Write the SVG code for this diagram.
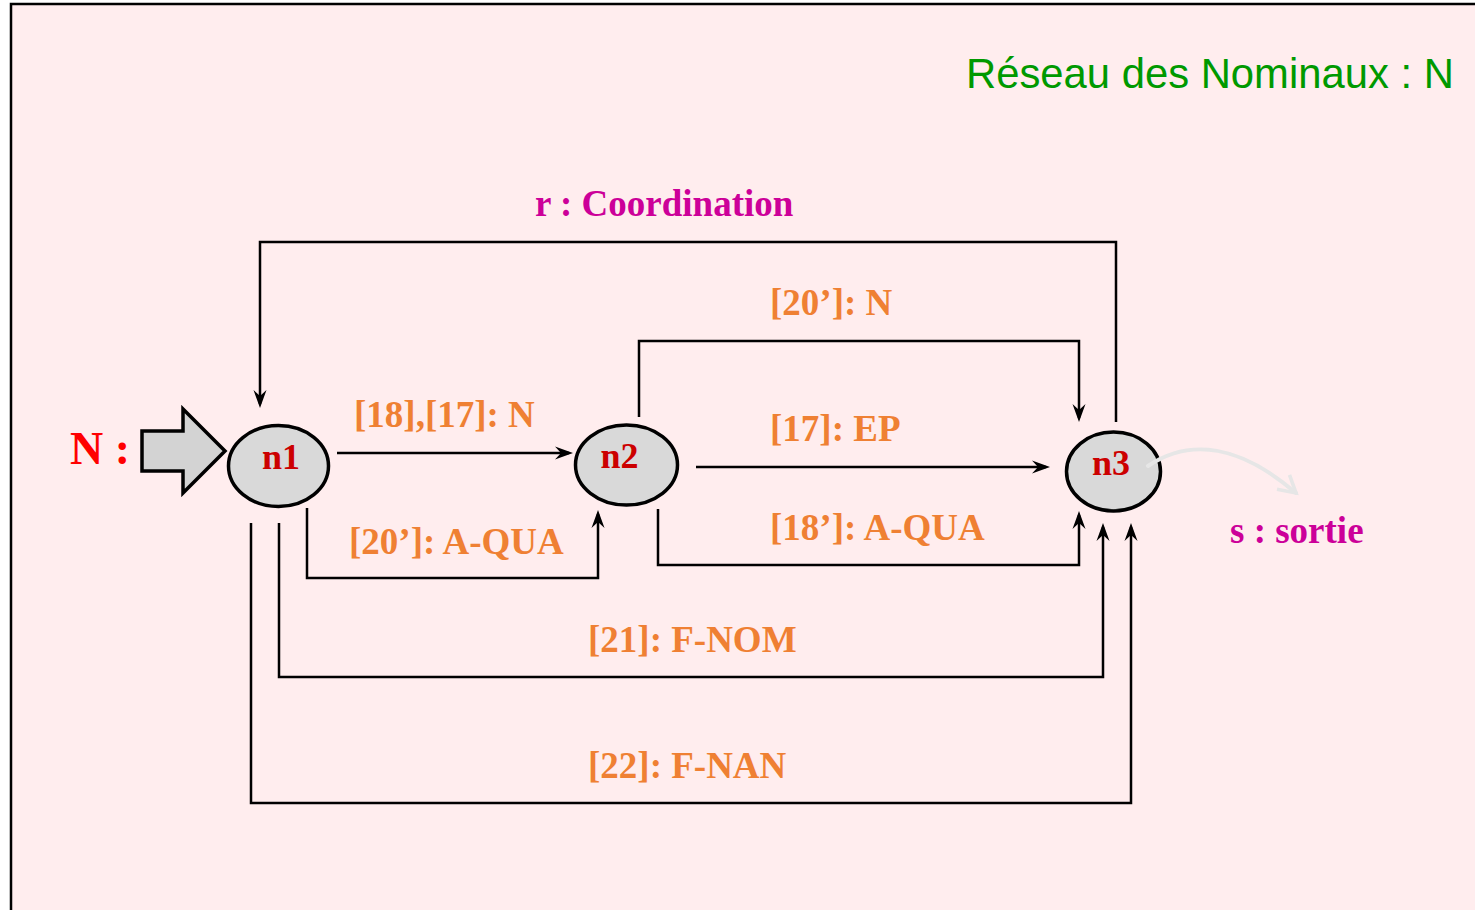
<svg xmlns="http://www.w3.org/2000/svg" width="1475" height="910" viewBox="0 0 1475 910">
<style>
.lbl{font-family:"Liberation Serif","Times New Roman",serif;font-weight:bold;font-size:37px;fill:#ef8033}
.mag{font-family:"Liberation Serif","Times New Roman",serif;font-weight:bold;font-size:37px;fill:#cc0099}
.node{fill:#d9d9d9;stroke:#000;stroke-width:3.5}
.nlbl{font-family:"Liberation Serif","Times New Roman",serif;font-weight:bold;font-size:36px;fill:#cc0000;text-anchor:middle}
.edge{fill:none;stroke:#000;stroke-width:2.5;marker-end:url(#ah)}
</style>
<defs>
<marker id="ah" markerUnits="userSpaceOnUse" markerWidth="20" markerHeight="14" refX="14" refY="6.5" orient="auto" viewBox="0 0 20 13">
<path d="M0,0 L18,6.5 L0,13 L6,6.5 z" fill="#000"/>
</marker>
<marker id="ahg" markerUnits="userSpaceOnUse" markerWidth="24" markerHeight="24" refX="16" refY="10" orient="auto" viewBox="0 0 20 20">
<path d="M2,2 L16,10 L2,18" fill="none" stroke="#e6e6e6" stroke-width="3"/>
</marker>
</defs>
<rect x="0" y="0" width="1475" height="910" fill="#ffffff"/>
<rect x="11" y="4" width="1480" height="930" fill="#ffedee" stroke="#000" stroke-width="2.5"/>
<text x="966" y="88" style="font-family:'Liberation Sans',Arial,sans-serif;font-size:41.8px;fill:#009900">Réseau des Nominaux : N</text>
<text x="70" y="464" style="font-family:'Liberation Serif','Times New Roman',serif;font-weight:bold;font-size:46px;fill:#ff0000">N :</text>
<g id="entry">
<polygon points="142,431 183,431 183,409 225,451 183,493 183,471 142,471" fill="#d3d3d3" stroke="#000" stroke-width="3.5"/>
</g>
<g id="connectors">
<path class="edge" d="M337,453 L569,453"/>
<path class="edge" d="M307,508 L307,578 L598,578 L598,514"/>
<path class="edge" d="M1116,422 L1116,242 L260,242 L260,404"/>
<path class="edge" d="M639,417 L639,341 L1079,341 L1079,418"/>
<path class="edge" d="M696,467 L1046,467"/>
<path class="edge" d="M658,509 L658,565 L1079,565 L1079,515"/>
<path class="edge" d="M279,523 L279,677 L1103,677 L1103,527"/>
<path class="edge" d="M251,523 L251,803 L1131,803 L1131,527"/>
</g>
<g id="labels">
<text class="mag" x="535" y="216">r : Coordination</text>
<text class="lbl" x="354" y="427">[18],[17]: N</text>
<text class="lbl" x="349" y="554">[20’]: A-QUA</text>
<text class="lbl" x="770" y="315">[20’]: N</text>
<text class="lbl" x="770" y="441">[17]: EP</text>
<text class="lbl" x="770" y="540">[18’]: A-QUA</text>
<text class="lbl" x="588" y="652">[21]: F-NOM</text>
<text class="lbl" x="588" y="778">[22]: F-NAN</text>
<text class="mag" x="1230" y="543">s : sortie</text>
</g>
<g id="n1">
<ellipse class="node" cx="278.5" cy="466" rx="50" ry="40.5"/>
<text class="nlbl" x="281" y="469">n1</text>
</g>
<g id="n2">
<ellipse class="node" cx="626.5" cy="465" rx="51" ry="40"/>
<text class="nlbl" x="619.5" y="468">n2</text>
</g>
<g id="n3">
<ellipse class="node" cx="1113.5" cy="471.5" rx="47" ry="39.5"/>
<text class="nlbl" x="1111" y="475">n3</text>
</g>
<g id="exit">
<path d="M1148,466 C1190,438 1240,445 1296,493" fill="none" stroke="#e6e6e6" stroke-width="4" stroke-linecap="round" marker-end="url(#ahg)"/>
</g>
</svg>
